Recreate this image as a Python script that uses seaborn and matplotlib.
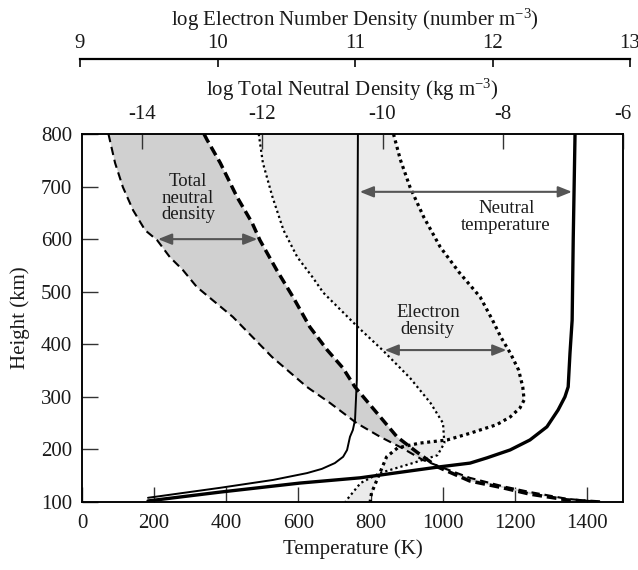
import numpy as np
import matplotlib
matplotlib.use("Agg")
import matplotlib.pyplot as plt
import seaborn as sns

# ---------------- data ----------------
# Neutral temperature (K) versus height (km)
temp_max_K = [183, 385, 604, 771, 993, 1076, 1123, 1187, 1242, 1289, 1320, 1339, 1348,
              1353, 1359, 1362, 1367]
temp_max_km = [102, 119, 136, 146, 167, 174, 184, 199, 218, 243, 275, 300, 319,
               383, 446, 600, 800]
temp_min_K = [183, 383, 530, 624, 665, 701, 724, 735, 743, 751, 757, 762, 763, 765]
temp_min_km = [108, 127, 142, 155, 163, 174, 186, 199, 224, 237, 256, 332, 484, 800]

# log total neutral density (kg m-3) versus height (km)
rho_max = [-12.97, -12.92, -12.70, -12.42, -12.17, -12.04, -11.76, -11.49, -11.21, -10.92,
           -10.66, -10.46, -10.04, -9.76, -9.43, -9.09, -8.55, -8.00, -7.55, -6.93, -6.38]
rho_max_km = [800, 789, 745, 680, 631, 598, 541, 490, 433, 389,
              355, 319, 262, 224, 195, 167, 140, 127, 115, 104, 100]
rho_min = [-14.56, -14.45, -14.32, -14.15, -13.95, -13.75, -13.54, -13.32, -13.09, -12.49,
           -11.84, -11.26, -10.87, -10.43, -10.04, -9.68, -9.33, -9.04, -8.55, -8.00,
           -7.55, -6.93, -6.38]
rho_min_km = [800, 745, 699, 655, 617, 598, 566, 541, 509, 452,
              376, 319, 288, 250, 224, 203, 180, 167, 146, 130,
              119, 106, 100]

# log electron number density (m-3) versus height (km)
ne_max = [11.28, 11.33, 11.40, 11.50, 11.62, 11.76, 11.91, 12.00, 12.06, 12.13, 12.19,
          12.22, 12.23, 12.20, 12.13, 12.03, 11.91, 11.84, 11.67, 11.47, 11.31, 11.23,
          11.18, 11.12, 11.11]
ne_max_km = [800, 751, 699, 642, 585, 536, 490, 446, 414, 383, 351,
             319, 294, 279, 262, 247, 237, 231, 218, 212, 203, 186,
             155, 117, 100]
ne_min = [10.30, 10.33, 10.40, 10.48, 10.58, 10.69, 10.77, 11.02, 11.20, 11.40, 11.55,
          11.64, 11.65, 11.60, 11.42, 11.18, 11.04, 10.94, 10.93]
ne_min_km = [800, 745, 680, 617, 566, 528, 498, 433, 389, 336, 288,
             250, 212, 189, 174, 155, 136, 104, 100]

temp_ticks = [0, 200, 400, 600, 800, 1000, 1200, 1400]
height_ticks = [100, 200, 300, 400, 500, 600, 700, 800]
rho_ticks = [-14, -12, -10, -8, -6]
rho_tick_labels = ["-14", "-12", "-10", "-8", "-6"]
ne_ticks = [9, 10, 11, 12, 13]
ne_tick_labels = ["9", "10", "11", "12", "13"]

# arrow heights (km)
arrow_rho_km = 600
arrow_temp_km = 690
arrow_ne_km = 389

# ---------------- style ----------------
sns.set_theme(style="white")
plt.rcParams.update({
    "font.family": ["Liberation Serif", "DejaVu Serif"],
    "mathtext.default": "regular",
    "axes.unicode_minus": False,
    "lines.scale_dashes": False,
    "font.size": 15,
    "axes.labelsize": 15,
    "xtick.labelsize": 15,
    "ytick.labelsize": 15,
    "axes.edgecolor": "black",
    "axes.linewidth": 1.1,
    "text.color": "#1a1a1a",
    "axes.labelcolor": "#1a1a1a",
    "xtick.color": "#333333",
    "ytick.color": "#333333",
    "xtick.labelcolor": "#1a1a1a",
    "ytick.labelcolor": "#1a1a1a",
})

W, H = 638, 570
fig = plt.figure(figsize=(W / 100, H / 100), dpi=100)

ax_l, ax_r, ax_t, ax_b = 82, 623, 134, 502
ax = fig.add_axes([ax_l / W, (H - ax_b) / H, (ax_r - ax_l) / W, (ax_b - ax_t) / H])
ax_rho = ax.twiny()
ax_ne = ax.twiny()
ax_ne.set_visible(False)

e_l, e_r, e_y = 80, 630, 60
ax_es = fig.add_axes([e_l / W, (H - e_y) / H, (e_r - e_l) / W, 1 / H])

ax.set_xlim(0, 1500)
ax.set_ylim(100, 800)
ax_rho.set_xlim(-15, -6)
ne_lo = 9 + (ax_l - e_l) / (e_r - e_l) * 4
ne_hi = 9 + (ax_r - e_l) / (e_r - e_l) * 4
ax_ne.set_xlim(ne_lo, ne_hi)
ax_es.set_xlim(9, 13)

# ---------------- fills ----------------
ax.fill(np.r_[ne_min, ne_max[::-1]], np.r_[ne_min_km, ne_max_km[::-1]],
        transform=ax_ne.transData, color="#ebebeb", lw=0, zorder=1)
ax.fill(np.r_[rho_min, rho_max[::-1]], np.r_[rho_min_km, rho_max_km[::-1]],
        transform=ax_rho.transData, color="#d0d0d0", lw=0, zorder=1.5)

# ---------------- curves ----------------
def curve(x, y, lw, dashes=None, transform=None, z=3):
    kw = dict(ax=ax, sort=False, estimator=None, color="black", lw=lw, zorder=z)
    if transform is not None:
        kw["transform"] = transform
    sns.lineplot(x=x, y=y, **kw)
    ln = ax.lines[-1]
    ln.set_solid_joinstyle("round")
    if dashes is not None:
        ln.set_dashes(dashes)
        ln.set_dash_capstyle("butt")
    return ln

curve(ne_min, ne_min_km, 1.6, (1.6, 2.2), ax_ne.transData)
curve(ne_max, ne_max_km, 2.3, (2.2, 2.6), ax_ne.transData)
curve(rho_min, rho_min_km, 1.5, (6, 3.5), ax_rho.transData)
curve(rho_max, rho_max_km, 2.5, (7, 3.5), ax_rho.transData)
curve(temp_min_K, temp_min_km, 1.4, None, None, 4)
curve(temp_max_K, temp_max_km, 2.4, None, None, 4)

ax.set_xlim(0, 1500)
ax.set_ylim(100, 800)

# ---------------- arrows ----------------
def at_height(xs, hs, h):
    hs = np.asarray(hs, float)
    xs = np.asarray(xs, float)
    o = np.argsort(hs)
    return np.interp(h, hs[o], xs[o])

arrow_kw = dict(arrowstyle="<|-|>,head_length=0.55,head_width=0.22", color="#555555",
                lw=1.5, shrinkA=1.5, shrinkB=1.5)

def double_arrow(x0, x1, h, trans):
    ax.annotate("", xy=(x1, h), xytext=(x0, h), xycoords=trans, textcoords=trans,
                arrowprops=arrow_kw, zorder=5)

double_arrow(at_height(rho_min, rho_min_km, arrow_rho_km),
             at_height(rho_max, rho_max_km, arrow_rho_km), arrow_rho_km, ax_rho.transData)
double_arrow(at_height(temp_min_K, temp_min_km, arrow_temp_km),
             at_height(temp_max_K, temp_max_km, arrow_temp_km), arrow_temp_km, ax.transData)
double_arrow(at_height(ne_min, ne_min_km, arrow_ne_km),
             at_height(ne_max, ne_max_km, arrow_ne_km), arrow_ne_km, ax_ne.transData)

txt_kw = dict(ha="center", va="center", fontsize=13.5, linespacing=0.95, zorder=6)
ax.text(294, 678, "Total\nneutral\ndensity", **txt_kw)
ax.text(1176, 642, "Neutral\ntemperature", **txt_kw)
ax.text(959, 444, "Electron\ndensity", **txt_kw)

# ---------------- axes styling ----------------
ax.set_xticks(temp_ticks)
ax.set_yticks(height_ticks)
ax.tick_params(axis="x", direction="in", length=11, width=1, pad=9, top=False, bottom=True)
ax.tick_params(axis="y", direction="in", length=11.5, width=1, pad=7, right=False, left=True)
ax.set_xlabel("Temperature (K)", labelpad=4)
ax.set_ylabel("Height (km)", labelpad=8)
for s in ax.spines.values():
    s.set_linewidth(1.1)

ax_rho.set_xticks(rho_ticks)
ax_rho.set_xticklabels(rho_tick_labels)
ax_rho.tick_params(axis="x", direction="in", length=11, width=1, pad=7, top=True,
                   labeltop=True, bottom=False, labelbottom=False)
ax_rho.set_xlabel(r"log Total Neutral Density (kg m$^{-3}$)", labelpad=7)
ax_rho.xaxis.set_label_position("top")

ax_es.set_xticks(ne_ticks)
ax_es.set_xticklabels(ne_tick_labels)
ax_es.set_yticks([])
ax_es.patch.set_visible(False)
for name, s in ax_es.spines.items():
    s.set_visible(name == "top")
ax_es.spines["top"].set_linewidth(1.6)
ax_es.xaxis.tick_top()
ax_es.tick_params(axis="x", direction="in", length=6, width=1.3, pad=4, color="#1a1a1a")
ax_es.set_xlabel(r"log Electron Number Density (number m$^{-3}$)", labelpad=6)
ax_es.xaxis.set_label_position("top")

fig.savefig("out.png", dpi=100)
